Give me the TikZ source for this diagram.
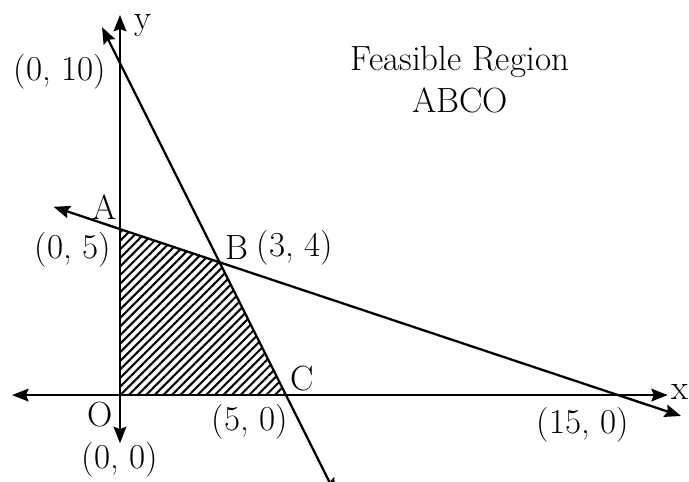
\documentclass[tikz,border=0pt]{standalone}
\usepackage{tikz}
\usetikzlibrary{arrows.meta,patterns.meta,positioning}
\tikzset{
  axis/.style={{Stealth[length=7pt,width=5.4pt,inset=1pt]}-{Stealth[length=7pt,width=5.4pt,inset=1pt]},
    line width=1.1pt},
  bound/.style={{Stealth[length=7pt,width=5.4pt,inset=1pt]}-{Stealth[length=7pt,width=5.4pt,inset=1pt]},
    line width=1pt},
  hatch/.style={pattern={Lines[angle=45,distance=2.6pt,line width=0.9pt]}},
  lbl/.style={font=\fontsize{15}{18}\selectfont,inner sep=1pt}
}
\begin{document}
\begin{tikzpicture}[x=0.5cm,y=0.5cm]
  \useasboundingbox (-3.614,-2.59) rectangle (17.14,11.9);
  % corner points
  \coordinate (O) at (0,0);
  \coordinate (A) at (0,5);
  \coordinate (B) at (3,4);
  \coordinate (C) at (5,0);
  \coordinate (P10) at (0,10);
  \coordinate (P15) at (15,0);
  % free ends
  \coordinate (xl) at (-3.25,0);
  \coordinate (xr) at (16.5,0);
  \coordinate (yb) at (0,-1.45);
  \coordinate (yt) at (0,11.45);
  \coordinate (l1a) at (-0.54,11.08);
  \coordinate (l1b) at (6.5,-3.0);
  \coordinate (l2a) at (-2.0,5.67);
  \coordinate (l2b) at (16.9,-0.63);
  % feasible region
  \fill[hatch] (O) -- (A) -- (B) -- (C) -- cycle;
  \draw[axis] (xl) -- (O) -- (xr);
  \draw[axis] (yb) -- (O) -- (yt);
  \draw[bound] (l1a) -- (P10) -- (B) -- (C) -- (l1b);
  \draw[bound] (l2a) -- (A) -- (B) -- (P15) -- (l2b);
  % labels
  \node[lbl] (ylab) at (0.69,11.12) {y};
  \node[lbl] (xlab) at (16.87,0.09) {x};
  \node[lbl] (t10) at (-1.81,9.73) {(0, 10)};
  \node[lbl] (tA) at (-0.45,5.66) {A};
  \node[lbl] (t5) at (-1.42,4.37) {(0, 5)};
  \node[lbl] (tB) at (3.52,4.43) {B};
  \node[lbl] (t34) at (5.27,4.43) {(3, 4)};
  \node[lbl] (tC) at (5.48,0.51) {C};
  \node[lbl] (tO) at (-0.6,-0.6) {O};
  \node[lbl] (t50) at (3.92,-0.81) {(5, 0)};
  \node[lbl] (t00) at (0,-1.96) {(0, 0)};
  \node[lbl] (t150) at (13.95,-0.9) {(15, 0)};
  \node[lbl,align=center] (title) at (10.24,9.49) {Feasible Region\\ABCO};
\end{tikzpicture}
\end{document}
